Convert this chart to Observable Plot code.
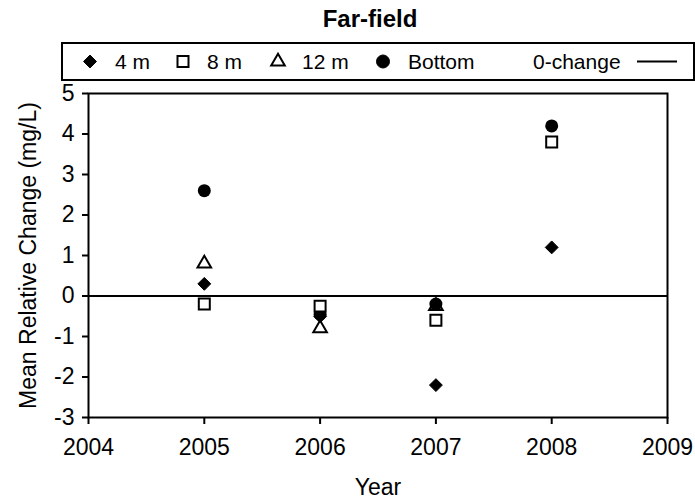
<!DOCTYPE html>
<html>
<head>
<meta charset="utf-8">
<script src="https://cdn.jsdelivr.net/npm/d3@7"></script>
<script src="https://cdn.jsdelivr.net/npm/@observablehq/plot@0.6"></script>
<style>
  html, body { margin: 0; padding: 0; background: #fff; }
  #wrap { position: relative; width: 695px; height: 501px; font-family: "Liberation Sans", Arial, sans-serif; color: #000; overflow: hidden; }
  #title { position: absolute; left: 270px; width: 200px; top: 5px; text-align: center; font-weight: bold; font-size: 24px; line-height: 28px; }
  #legend { position: absolute; left: 61px; top: 42px; width: 630px; height: 35px; border: 2px solid #000; }
  #legend svg { position: absolute; left: 0; top: 0; }
  #chart { position: absolute; left: 0; top: 0; }
  #chart svg text { font-size: 20px; }
  #chart svg g[aria-label$="label"] text { font-size: 23px; }
</style>
</head>
<body>
<div id="wrap">
  <div id="chart"></div>
  <div id="title">Far-field</div>
  <div id="legend"></div>
</div>
<script>
const years = [2005, 2006, 2007, 2008];
const m4 = [0.3, -0.5, -2.2, 1.2];
const m8 = [-0.2, -0.25, -0.6, 3.8];
const m12 = [0.8, -0.8, -0.25, null];
const bottom = [2.6, -0.45, -0.2, 4.2];
const xTicks = [2004, 2005, 2006, 2007, 2008, 2009];
const yTicks = [-3, -2, -1, 0, 1, 2, 3, 4, 5];
const seriesNames = ["4 m", "8 m", "12 m", "Bottom"];

const toRows = (vals, name) => years.map((y, i) => ({year: y, value: vals[i], series: name})).filter(d => d.value != null);
const r4 = toRows(m4, "4 m"), r8 = toRows(m8, "8 m"), r12 = toRows(m12, "12 m"), rB = toRows(bottom, "Bottom");

const R = {diamond2: 5.8, square2: 7, triangle2: 6.5, circle: 6.5};

const chart = Plot.plot({
  width: 695,
  height: 501,
  marginTop: 93,
  marginRight: 28,
  marginBottom: 84,
  marginLeft: 88,
  style: {fontFamily: "Liberation Sans, Arial, sans-serif", fontSize: "20px", color: "#000", background: "#fff", overflow: "visible"},
  x: {domain: [2004, 2009]},
  y: {domain: [-3, 5]},
  marks: [
    Plot.frame({stroke: "#000", strokeWidth: 2}),
    Plot.axisX({ticks: xTicks, tickFormat: d => String(d), tickSize: 7, tickPadding: 14,
      label: "Year", labelAnchor: "center", labelArrow: "none", labelOffset: 77, strokeWidth: 2}),
    Plot.axisY({ticks: yTicks, tickFormat: d => String(d), tickSize: 6, tickPadding: 8,
      label: "Mean Relative Change (mg/L)", labelAnchor: "center", labelArrow: "none", labelOffset: 69, strokeWidth: 2}),
    Plot.ruleY([0], {stroke: "#000", strokeWidth: 2}),
    Plot.dot(r12, {x: "year", y: "value", symbol: "triangle2", r: R.triangle2, stroke: "#000", fill: "#fff", strokeWidth: 2}),
    Plot.dot(r4, {x: "year", y: "value", symbol: "diamond2", r: R.diamond2, stroke: "#000", fill: "#000", strokeWidth: 1}),
    Plot.dot(rB, {x: "year", y: "value", symbol: "circle", r: R.circle, fill: "#000", stroke: "none"}),
    Plot.dot(r8, {x: "year", y: "value", symbol: "square2", r: R.square2, stroke: "#000", fill: "#fff", strokeWidth: 2})
  ]
});
document.getElementById("chart").appendChild(chart);

// Legend
const legendItems = [
  {label: seriesNames[0], symbol: "diamond2", fill: "#000", sx: 27, tx: 52},
  {label: seriesNames[1], symbol: "square2", fill: "#fff", sx: 120, tx: 144},
  {label: seriesNames[2], symbol: "triangle2", fill: "#fff", sx: 215, tx: 239},
  {label: seriesNames[3], symbol: "circle", fill: "#000", sx: 320, tx: 345}
];
const lg = d3.select("#legend").append("svg").attr("width", 630).attr("height", 35)
  .style("font-family", "Liberation Sans, Arial, sans-serif").style("font-size", "21px");
const symMap = {diamond2: d3.symbolDiamond2, square2: d3.symbolSquare2, triangle2: d3.symbolTriangle2, circle: d3.symbolCircle};
legendItems.forEach(it => {
  const rr = R[it.symbol];
  lg.append("path").attr("d", d3.symbol(symMap[it.symbol], Math.PI * rr * rr)())
    .attr("transform", `translate(${it.sx},17.5)`)
    .attr("fill", it.fill).attr("stroke", "#000").attr("stroke-width", it.fill === "#000" ? 1 : 2);
  lg.append("text").attr("x", it.tx).attr("y", 25).text(it.label);
});
lg.append("text").attr("x", 470).attr("y", 25).text("0-change");
lg.append("line").attr("x1", 574).attr("x2", 614).attr("y1", 17.5).attr("y2", 17.5).attr("stroke", "#000").attr("stroke-width", 2);
</script>
</body>
</html>
